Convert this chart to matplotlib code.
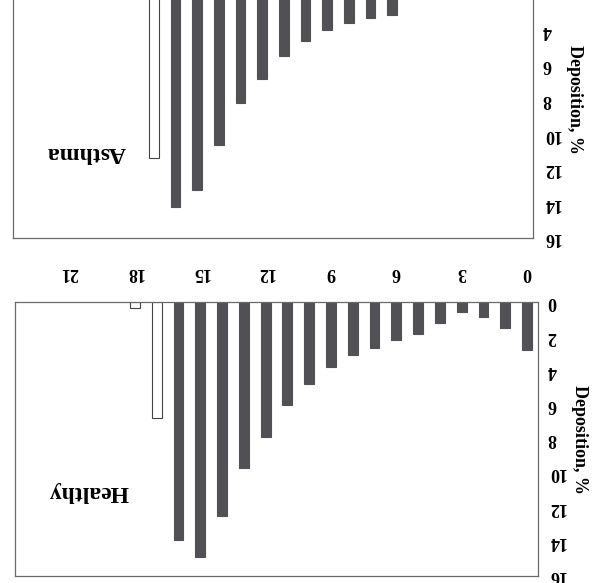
import matplotlib.pyplot as plt

# airway generation and deposition (%) (figure is printed upside down)
generations = list(range(19))
healthy = [2.8, 1.5, 0.9, 0.6, 1.2, 1.9, 2.2, 2.7, 3.1, 3.8, 4.8, 6.0, 7.9, 9.7,
           12.5, 14.9, 13.9, 6.8, 0.35]
# generations 0-5 of the asthma panel are cut off in the scan, values guessed small
asthma = [1.8, 1.0, 0.6, 0.5, 0.9, 1.5, 3.1, 3.3, 3.6, 4.0, 4.6, 5.5, 6.8, 8.2,
          10.6, 13.2, 14.2, 11.4, 0.3]
open_from = 17  # white (alveolar) bars from this generation on
y_ticks = list(range(0, 17, 2))
y_ticks_top = list(range(4, 17, 2))  # 0 and 2 fall outside the scanned area
x_ticks = list(range(0, 22, 3))

dark = '#505055'
frame = '#6a6a6a'

plt.rcParams['font.family'] = 'Liberation Serif'
plt.rcParams['font.weight'] = 'bold'

fig = plt.figure(figsize=(5.95, 5.83), dpi=100)
ax_a = fig.add_axes([0.0218, 0.5918, 0.874, 0.475])
ax_h = fig.add_axes([0.0252, 0.0115, 0.879, 0.4705])


def draw_panel(ax, values, name, ticks, ymax):
    colors = [dark if g < open_from else 'white' for g in generations]
    edges = [dark if g < open_from else '#444444' for g in generations]
    ax.bar(generations, values, width=0.45, color=colors, edgecolor=edges,
           linewidth=0.8)
    ax.set_xlim(23.5, -0.5)
    ax.set_ylim(ymax, 0)
    ax.yaxis.tick_right()
    ax.set_yticks(ticks)
    ax.tick_params(axis='y', length=0, pad=7, labelsize=13, labelrotation=180)
    for lbl in ax.get_yticklabels():
        lbl.set_fontweight('bold')
        lbl.set_verticalalignment('center')
    ax.yaxis.set_label_position('right')
    ax.set_ylabel('Deposition, %', rotation=270, va='bottom', fontsize=13,
                  fontweight='bold', labelpad=4)
    for s in ax.spines.values():
        s.set_color(frame)
        s.set_linewidth(0.9)
    ax.text(0.14, 0.31, name, transform=ax.transAxes, rotation=180,
            ha='center', va='center', fontsize=17, fontweight='bold')


draw_panel(ax_a, asthma, 'Asthma', y_ticks_top, 16)
draw_panel(ax_h, healthy, 'Healthy', y_ticks, 16.05)

ax_a.set_xticks([])

ax_h.xaxis.tick_top()
ax_h.set_xticks(x_ticks)
ax_h.tick_params(axis='x', length=0, pad=15, labelsize=13, labelrotation=180)
for lbl in ax_h.get_xticklabels():
    lbl.set_fontweight('bold')

fig.savefig('out.png', dpi=100)
